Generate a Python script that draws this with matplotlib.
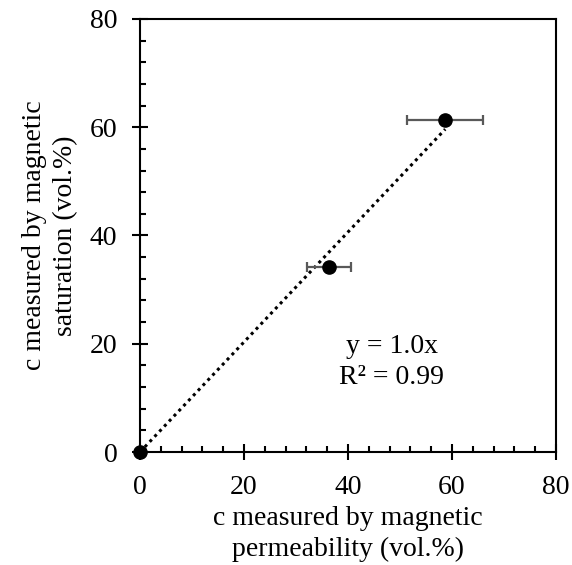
import numpy as np
import matplotlib
matplotlib.use("Agg")
import matplotlib.pyplot as plt
from matplotlib.ticker import MultipleLocator

plt.rcParams['font.family'] = ['Liberation Serif', 'DejaVu Serif']

# Measured volume fractions (vol.%)
perm_x = [0.0, 36.3, 58.7]        # by magnetic permeability
sat_y = [0.0, 34.2, 61.3]         # by magnetic saturation
perm_err = [0.0, 4.2, 7.3]        # uncertainty of the permeability value

FS = 20

fig = plt.figure(figsize=(5.72, 5.65), dpi=100)
ax = fig.add_axes([0.2448, 0.2, 0.972 - 0.2448, 0.9664 - 0.2])

# Linear fit through the origin
x = np.array(perm_x)
y = np.array(sat_y)
slope = np.sum(x * y) / np.sum(x * x)
xs = np.array([0.0, x.max()])
ax.plot(xs, slope * xs, color='black', lw=2.2, linestyle=(0, (1, 1.3)), zorder=2)

ax.errorbar(perm_x, sat_y, xerr=perm_err, fmt='none', ecolor='#595959',
            elinewidth=1.6, capsize=3.8, capthick=1.6, zorder=3)
ax.plot(perm_x, sat_y, 'o', color='black', markersize=9.5, clip_on=False, zorder=4)

ax.set_xlim(0, 80)
ax.set_ylim(0, 80)
ax.xaxis.set_major_locator(MultipleLocator(20))
ax.yaxis.set_major_locator(MultipleLocator(20))
ax.xaxis.set_minor_locator(MultipleLocator(4))
ax.yaxis.set_minor_locator(MultipleLocator(4))
ax.tick_params(which='major', direction='inout', length=11.5, width=1.5,
               labelsize=FS, top=False, right=False)
ax.tick_params(axis='x', which='major', pad=11)
ax.tick_params(axis='y', which='major', pad=10.5)
ax.tick_params(which='minor', direction='in', length=4.3, width=1.5,
               top=False, right=False)
for s in ax.spines.values():
    s.set_linewidth(1.5)

ax.text(48.4, 16.6, 'y = 1.0x\nR² = 0.99', ha='center', va='center',
        fontsize=FS, linespacing=1.32)

ax.set_xlabel('c measured by magnetic\npermeability (vol.%)', fontsize=FS,
              linespacing=1.3, labelpad=4)
ax.set_ylabel('c measured by magnetic\nsaturation (vol.%)', fontsize=FS,
              linespacing=1.3, labelpad=8.5)

fig.savefig('out.png', dpi=100)
